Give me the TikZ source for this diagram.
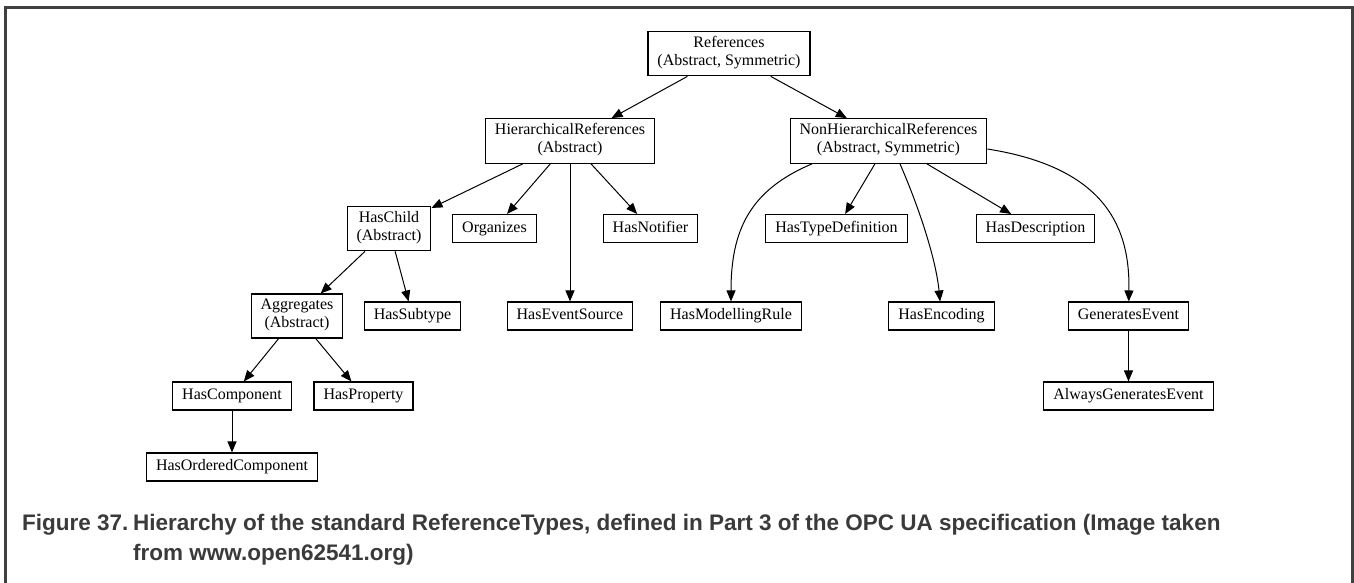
\documentclass[tikz,border=0pt]{standalone}
\usepackage{fontspec}
\setmainfont{Liberation Serif}
\newfontfamily\capfont{Liberation Sans}
\usetikzlibrary{arrows.meta}
\definecolor{capgray}{HTML}{3A3A3A}
\definecolor{framegray}{HTML}{404040}

\begin{document}
\begin{tikzpicture}[
  x=1pt, y=1pt,
  reftype/.style={draw, line width=1.1pt, font=\fontsize{16}{18}\selectfont, align=center,
    inner xsep=9.5pt, inner ysep=5pt, minimum height=28pt,
    execute at begin node=\strut, execute at end node=\strut},
  link/.style={draw, line width=1pt, -{Triangle[length=11pt, width=9pt]}},
  captext/.style={font=\capfont\bfseries\fontsize{22.5}{30}\selectfont, text=capgray,
    align=left, inner sep=0pt, anchor=base west}
]
\useasboundingbox (0,0) rectangle (1354,-583);
\draw[framegray, line width=3pt] (5.5,-583) -- (5.5,-7.5) -- (1352,-7.5) -- (1352,-583);

\node[reftype] (refs) at (729,-53.5) {References\\(Abstract, Symmetric)};
\node[reftype] (hier) at (570,-141) {HierarchicalReferences\\(Abstract)};
\node[reftype] (nonhier) at (888.5,-141) {NonHierarchicalReferences\\(Abstract, Symmetric)};

\node[reftype] (haschild) at (389,-228.5) {HasChild\\(Abstract)};
\node[reftype] (organizes) at (494.5,-228.5) {Organizes};
\node[reftype] (hasnotifier) at (650.5,-228.5) {HasNotifier};
\node[reftype] (hastypedef) at (836.5,-228.5) {HasTypeDefinition};
\node[reftype] (hasdescr) at (1035.5,-228.5) {HasDescription};

\node[reftype] (aggregates) at (297,-316) {Aggregates\\(Abstract)};
\node[reftype] (hassubtype) at (412.5,-316) {HasSubtype};
\node[reftype] (haseventsrc) at (570,-316) {HasEventSource};
\node[reftype] (hasmodrule) at (731,-316) {HasModellingRule};
\node[reftype] (hasencoding) at (941.5,-316) {HasEncoding};
\node[reftype] (genevent) at (1128.5,-316) {GeneratesEvent};

\node[reftype] (hascomponent) at (232,-396) {HasComponent};
\node[reftype] (hasproperty) at (363.5,-396) {HasProperty};
\node[reftype] (alwaysgen) at (1128.5,-396) {AlwaysGeneratesEvent};
\node[reftype] (hasordered) at (232,-467) {HasOrderedComponent};

\draw[link] (refs) -- (hier);
\draw[link] (refs) -- (nonhier);
\draw[link] (hier) -- (haschild);
\draw[link] (hier) -- (organizes);
\draw[link] (hier) -- (haseventsrc);
\draw[link] (hier) -- (hasnotifier);
\draw[link] (haschild) -- (aggregates);
\draw[link] (haschild) -- (hassubtype);
\draw[link] (aggregates) -- (hascomponent);
\draw[link] (aggregates) -- (hasproperty);
\draw[link] (hascomponent) -- (hasordered);
\draw[link] (nonhier) -- (hastypedef);
\draw[link] (nonhier) -- (hasdescr);
\draw[link] ([xshift=-76.5pt]nonhier.south) .. controls (750,-190) and (731,-230) .. (hasmodrule);
\draw[link] ([xshift=11.5pt]nonhier.south) .. controls (920,-210) and (936,-260) .. (hasencoding);
\draw[link] ([yshift=-8pt]nonhier.east) .. controls (1108,-168) and (1130,-230) .. (genevent);
\draw[link] (genevent) -- (alwaysgen);

\node[captext] (fignum) at (22,-530) {Figure 37.};
\node[captext] (caption) at (133,-560) {Hierarchy of the standard ReferenceTypes, defined in Part 3 of the OPC UA specification (Image taken\\from www.open62541.org)};
\end{tikzpicture}
\end{document}
